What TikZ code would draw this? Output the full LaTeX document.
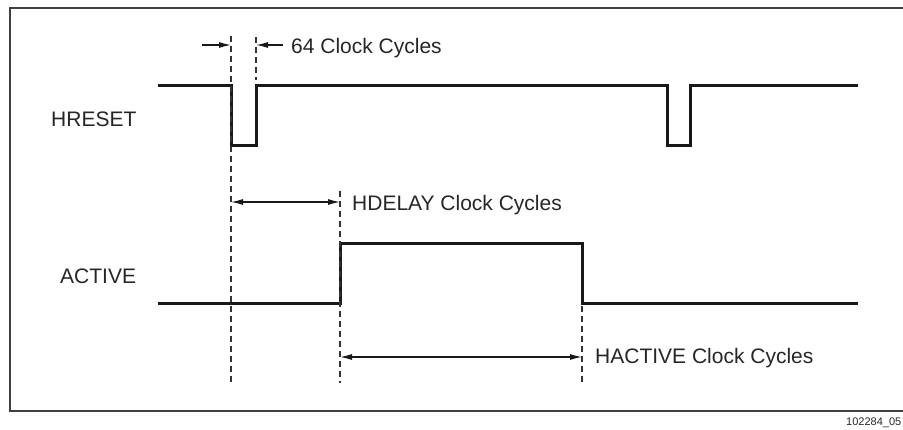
\documentclass[tikz,border=0pt]{standalone}
\usepackage{fontspec}
\setmainfont{Liberation Sans}
\usetikzlibrary{arrows.meta}

\begin{document}
\begin{tikzpicture}[x=1pt, y=-1pt, >={Latex[length=12pt,width=6pt]},
  signal/.style={line width=3pt, line join=miter, black!90},
  guide/.style={line width=1.2pt, dash pattern=on 6pt off 4pt, black!80},
  dim/.style={line width=1.2pt, black!90},
  lbl/.style={font=\fontsize{21}{25}\selectfont, inner sep=0pt, anchor=base west, text=black!85}]

% Parameters
\def\hHi{85}
\def\hLo{145}
\def\aHi{243}
\def\aLo{303}

% Page and frame
\clip (0,0) rectangle (903,429);
\draw[line width=1.5pt, black!75] (10,8) rectangle (930,411);

% Edge positions
\coordinate (R1) at (231,0);
\coordinate (R2) at (256,0);
\coordinate (A1) at (340,0);
\coordinate (A2) at (582,0);

% HRESET waveform
\draw[signal] (158,\hHi) -- (R1 |- 0,\hHi) -- (R1 |- 0,\hLo) -- (R2 |- 0,\hLo)
  -- (R2 |- 0,\hHi) -- (667,\hHi) -- (667,\hLo) -- (690,\hLo) -- (690,\hHi) -- (858,\hHi);

% ACTIVE waveform
\draw[signal] (158,\aLo) -- (A1 |- 0,\aLo) -- (A1 |- 0,\aHi) -- (A2 |- 0,\aHi)
  -- (A2 |- 0,\aLo) -- (858,\aLo);

% Dashed guides
\draw[guide] (R1 |- 0,36) -- (R1 |- 0,383);
\draw[guide] (R2 |- 0,37) -- (R2 |- 0,80);
\draw[guide] (A1 |- 0,191) -- (A1 |- 0,383);
\draw[guide] (A2 |- 0,306) -- (A2 |- 0,383);

% 64 clock cycle markers
\coordinate (p64a) at (R1 |- 0,45);
\coordinate (p64b) at (R2 |- 0,45);
\draw[dim, ->] (202,45) -- (p64a);
\draw[dim, ->] (283,45) -- (p64b);

% HDELAY span
\coordinate (pda) at (R1 |- 0,202);
\coordinate (pdb) at (A1 |- 0,202);
\draw[dim, <->] (pda) -- (pdb);

% HACTIVE span
\coordinate (paa) at (A1 |- 0,357);
\coordinate (pab) at (A2 |- 0,357);
\draw[dim, <->] (paa) -- (pab);

% Labels
\node[lbl] (hreset) at (51,126) {HRESET};
\node[lbl] (active) at (60,283) {ACTIVE};
\node[lbl] (cyc64) at (291,53) {64 Clock Cycles};
\node[lbl] (hdelay) at (352,210) {HDELAY Clock Cycles};
\node[lbl] (hactive) at (595,363) {HACTIVE Clock Cycles};
\node[lbl, font=\fontsize{11}{13}\selectfont] (figno) at (846,425) {102284\_05};

\end{tikzpicture}
\end{document}
